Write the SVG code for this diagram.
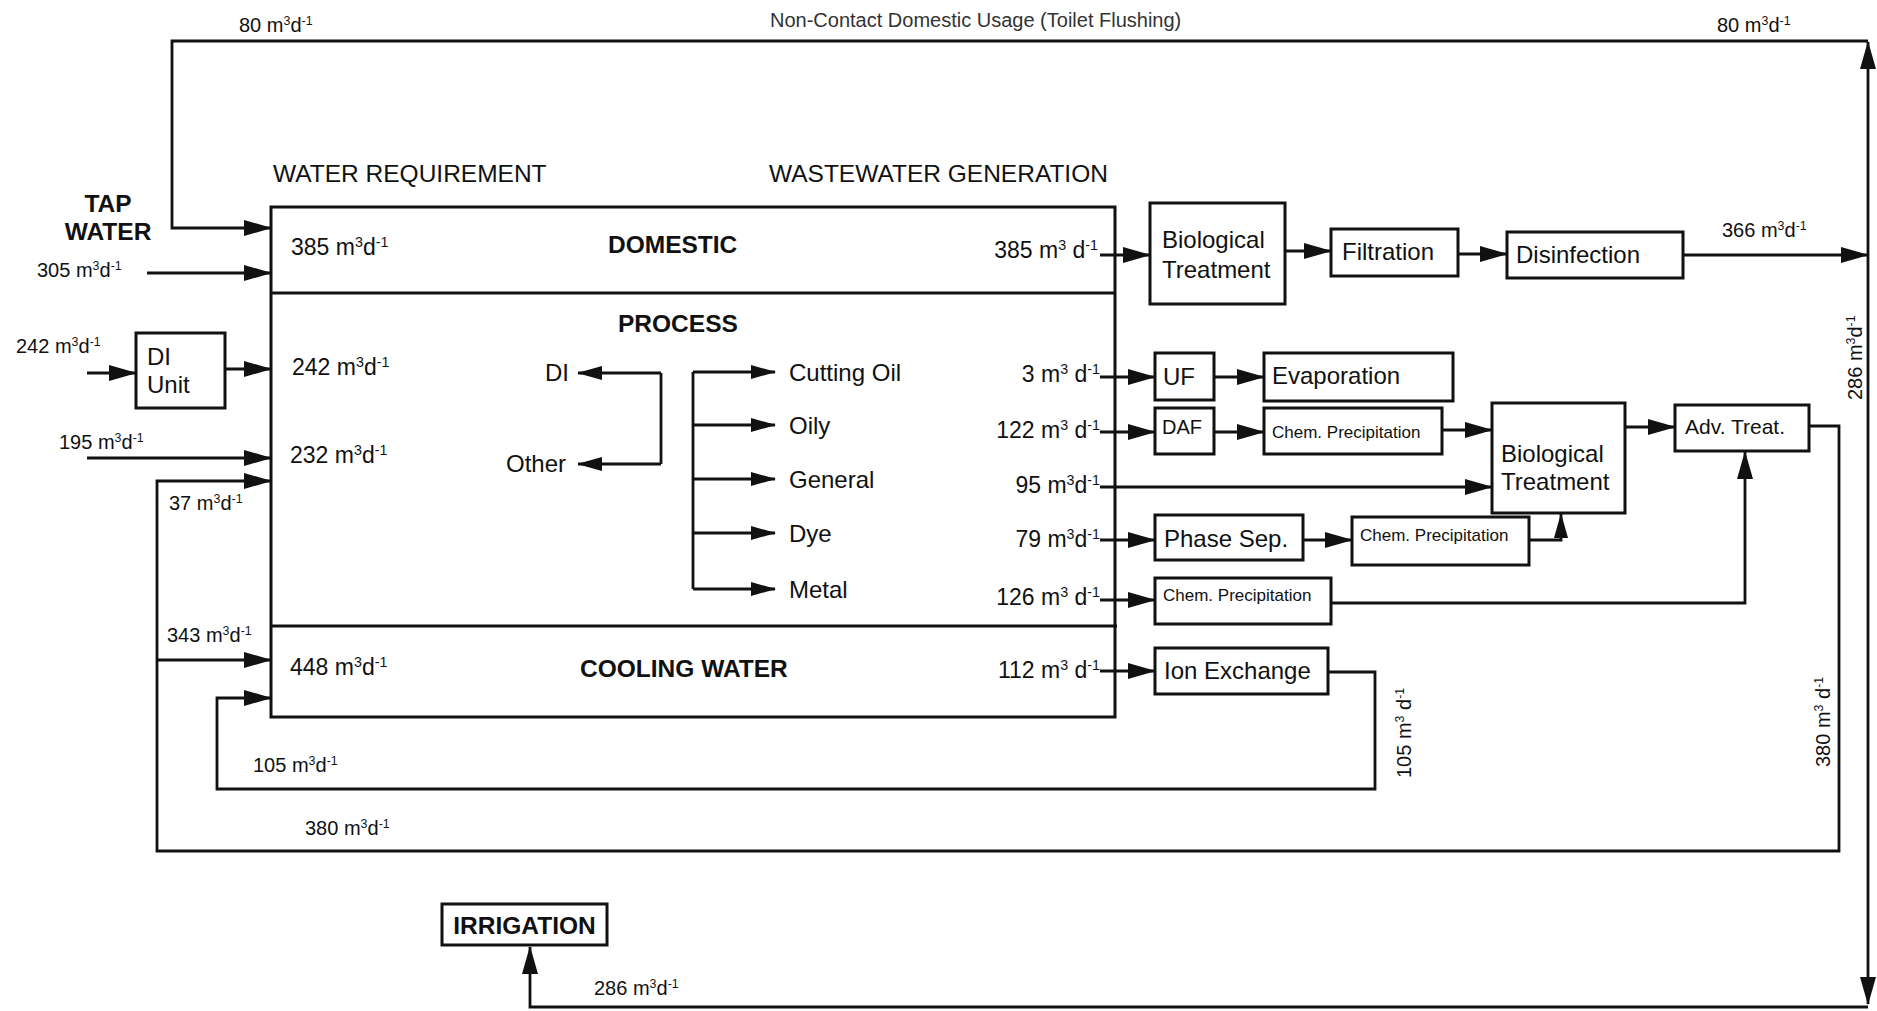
<svg xmlns="http://www.w3.org/2000/svg" width="1877" height="1011" viewBox="0 0 1877 1011">
<defs>
<marker id="ar" markerUnits="userSpaceOnUse" markerWidth="28" markerHeight="16" viewBox="0 0 28 16" refX="27" refY="8" orient="auto"><path d="M0,0 L28,8 L0,16 z" fill="#111"/></marker>
<marker id="as" markerUnits="userSpaceOnUse" markerWidth="25" markerHeight="14" viewBox="0 0 25 14" refX="24" refY="7" orient="auto"><path d="M0,0 L25,7 L0,14 z" fill="#111"/></marker>
</defs>
<style>
text{font-family:"Liberation Sans",Arial,sans-serif;fill:#111}
.b{font-weight:bold;font-size:24.5px}
.h{font-size:24.5px}
.m{font-size:24px}
.n{font-size:23px}
.o{font-size:20px}
.c{font-size:17px}
.s{font-size:62%;baseline-shift:super}
rect{fill:#fff;stroke:#111;stroke-width:3}
.ln{fill:none;stroke:#111;stroke-width:2.8}
</style>
<rect x="0" y="0" width="1877" height="1011" style="fill:#fff;stroke:none"/>

<g id="main-block">
<rect x="271" y="207" width="844" height="510"/>
<path class="ln" d="M271,293 H1115 M271,626 H1117" style="stroke-width:3"/>
<text class="b" x="608" y="253">DOMESTIC</text>
<text class="b" x="618" y="332">PROCESS</text>
<text class="b" x="580" y="677">COOLING WATER</text>
<text class="n" x="291" y="255">385 m<tspan class="s">3</tspan>d<tspan class="s">-1</tspan></text>
<text class="n" x="292" y="375">242 m<tspan class="s">3</tspan>d<tspan class="s">-1</tspan></text>
<text class="n" x="290" y="463">232 m<tspan class="s">3</tspan>d<tspan class="s">-1</tspan></text>
<text class="n" x="290" y="675">448 m<tspan class="s">3</tspan>d<tspan class="s">-1</tspan></text>
<text class="n" x="1098" y="258" text-anchor="end">385 m<tspan class="s">3</tspan> d<tspan class="s">-1</tspan></text>
<text class="n" x="1100" y="382" text-anchor="end">3 m<tspan class="s">3</tspan> d<tspan class="s">-1</tspan></text>
<text class="n" x="1100" y="438" text-anchor="end">122 m<tspan class="s">3</tspan> d<tspan class="s">-1</tspan></text>
<text class="n" x="1100" y="493" text-anchor="end">95 m<tspan class="s">3</tspan>d<tspan class="s">-1</tspan></text>
<text class="n" x="1100" y="547" text-anchor="end">79 m<tspan class="s">3</tspan>d<tspan class="s">-1</tspan></text>
<text class="n" x="1100" y="605" text-anchor="end">126 m<tspan class="s">3</tspan> d<tspan class="s">-1</tspan></text>
<text class="n" x="1100" y="678" text-anchor="end">112 m<tspan class="s">3</tspan> d<tspan class="s">-1</tspan></text>
<text class="m" x="545" y="381">DI</text>
<text class="m" x="506" y="472">Other</text>
<text class="m" x="789" y="381">Cutting Oil</text>
<text class="m" x="789" y="434">Oily</text>
<text class="m" x="789" y="488">General</text>
<text class="m" x="789" y="542">Dye</text>
<text class="m" x="789" y="598">Metal</text>
</g>

<g id="di-unit"><rect x="136" y="333" width="89" height="75"/><text class="m" x="147" y="365">DI</text><text class="m" x="147" y="393">Unit</text></g>
<g id="bio1"><rect x="1150" y="203" width="135" height="101"/><text class="m" x="1162" y="248">Biological</text><text class="m" x="1162" y="278">Treatment</text></g>
<g id="filtration"><rect x="1331" y="229" width="127" height="47"/><text class="m" x="1342" y="260">Filtration</text></g>
<g id="disinfection"><rect x="1507" y="232" width="176" height="46"/><text class="m" x="1516" y="263">Disinfection</text></g>
<g id="uf"><rect x="1155" y="353" width="59" height="47"/><text class="m" x="1163" y="385">UF</text></g>
<g id="evaporation"><rect x="1264" y="353" width="189" height="48"/><text class="m" x="1272" y="384">Evaporation</text></g>
<g id="daf"><rect x="1155" y="408" width="59" height="46"/><text style="font-size:20px" x="1162" y="434">DAF</text></g>
<g id="chem1"><rect x="1264" y="408" width="178" height="46"/><text class="c" x="1272" y="438">Chem. Precipitation</text></g>
<g id="bio2"><rect x="1492" y="403" width="133" height="110"/><text class="m" x="1501" y="462">Biological</text><text class="m" x="1501" y="490">Treatment</text></g>
<g id="adv"><rect x="1675" y="405" width="134" height="46"/><text style="font-size:21px" x="1685" y="434">Adv. Treat.</text></g>
<g id="phase-sep"><rect x="1155" y="515" width="148" height="45"/><text class="m" x="1164" y="547">Phase Sep.</text></g>
<g id="chem2"><rect x="1352" y="517" width="177" height="48"/><text class="c" x="1360" y="541">Chem. Precipitation</text></g>
<g id="chem3"><rect x="1155" y="578" width="176" height="46"/><text class="c" x="1163" y="601">Chem. Precipitation</text></g>
<g id="ion-exchange"><rect x="1155" y="648" width="173" height="46"/><text class="m" x="1164" y="679">Ion Exchange</text></g>
<g id="irrigation"><rect x="442" y="904" width="165" height="41"/><text class="b" x="524.5" y="934" text-anchor="middle">IRRIGATION</text></g>

<g id="connectors">
<path class="ln" d="M147,273 H271" marker-end="url(#ar)"/>
<path class="ln" d="M1868,255 V42" marker-end="url(#ar)"/>
<path class="ln" d="M1868,41 H172 V228 H271" marker-end="url(#ar)"/>
<path class="ln" d="M87,373 H136" marker-end="url(#ar)"/>
<path class="ln" d="M225,369 H271" marker-end="url(#ar)"/>
<path class="ln" d="M87,458 H271" marker-end="url(#ar)"/>
<path class="ln" d="M1809,426 H1839 V851 H157 V481 H271" marker-end="url(#ar)"/>
<path class="ln" d="M157,660 H271" marker-end="url(#ar)"/>
<path class="ln" d="M1328,672 H1375 V789 H217 V698 H271" marker-end="url(#ar)"/>
<path class="ln" d="M1100,255 H1150" marker-end="url(#ar)"/>
<path class="ln" d="M1285,251 H1331" marker-end="url(#ar)"/>
<path class="ln" d="M1458,254 H1507" marker-end="url(#ar)"/>
<path class="ln" d="M1683,255 H1868" marker-end="url(#ar)"/>
<path class="ln" d="M1868,255 V1004" marker-end="url(#ar)"/>
<path class="ln" d="M1868,1007 H530 V947" marker-end="url(#ar)"/>
<path class="ln" d="M661,373 V464"/>
<path class="ln" d="M661,373 H578" marker-end="url(#as)"/>
<path class="ln" d="M661,464 H578" marker-end="url(#as)"/>
<path class="ln" d="M693,372 V589"/>
<path class="ln" d="M693,372 H775" marker-end="url(#as)"/>
<path class="ln" d="M693,425 H775" marker-end="url(#as)"/>
<path class="ln" d="M693,479 H775" marker-end="url(#as)"/>
<path class="ln" d="M693,533 H775" marker-end="url(#as)"/>
<path class="ln" d="M693,589 H775" marker-end="url(#as)"/>
<path class="ln" d="M1100,377 H1155" marker-end="url(#ar)"/>
<path class="ln" d="M1214,377 H1264" marker-end="url(#ar)"/>
<path class="ln" d="M1100,432 H1155" marker-end="url(#ar)"/>
<path class="ln" d="M1214,432 H1264" marker-end="url(#ar)"/>
<path class="ln" d="M1442,430 H1492" marker-end="url(#ar)"/>
<path class="ln" d="M1100,487 H1492" marker-end="url(#ar)"/>
<path class="ln" d="M1100,540 H1155" marker-end="url(#ar)"/>
<path class="ln" d="M1303,540 H1352" marker-end="url(#ar)"/>
<path class="ln" d="M1529,540 H1561 V514" marker-end="url(#as)"/>
<path class="ln" d="M1100,600 H1155" marker-end="url(#ar)"/>
<path class="ln" d="M1331,603 H1745 V452" marker-end="url(#ar)"/>
<path class="ln" d="M1100,671 H1155" marker-end="url(#ar)"/>
<path class="ln" d="M1625,427 H1675" marker-end="url(#ar)"/>
</g>

<g id="flow-labels">
<text class="o" x="239" y="32">80 m<tspan class="s">3</tspan>d<tspan class="s">-1</tspan></text>
<text class="o" x="770" y="27" style="fill:#333">Non-Contact Domestic Usage (Toilet Flushing)</text>
<text class="o" x="1717" y="32">80 m<tspan class="s">3</tspan>d<tspan class="s">-1</tspan></text>
<text class="o" x="1722" y="237">366 m<tspan class="s">3</tspan>d<tspan class="s">-1</tspan></text>
<text class="o" x="37" y="277">305 m<tspan class="s">3</tspan>d<tspan class="s">-1</tspan></text>
<text class="o" x="16" y="353">242 m<tspan class="s">3</tspan>d<tspan class="s">-1</tspan></text>
<text class="o" x="59" y="449">195 m<tspan class="s">3</tspan>d<tspan class="s">-1</tspan></text>
<text class="o" x="169" y="510">37 m<tspan class="s">3</tspan>d<tspan class="s">-1</tspan></text>
<text class="o" x="167" y="642">343 m<tspan class="s">3</tspan>d<tspan class="s">-1</tspan></text>
<text class="o" x="253" y="772">105 m<tspan class="s">3</tspan>d<tspan class="s">-1</tspan></text>
<text class="o" x="305" y="835">380 m<tspan class="s">3</tspan>d<tspan class="s">-1</tspan></text>
<text class="o" x="594" y="995">286 m<tspan class="s">3</tspan>d<tspan class="s">-1</tspan></text>
<text class="o" transform="translate(1862,400) rotate(-90)">286 m<tspan class="s">3</tspan>d<tspan class="s">-1</tspan></text>
<text class="o" transform="translate(1411,778) rotate(-90)">105 m<tspan class="s">3</tspan> d<tspan class="s">-1</tspan></text>
<text class="o" transform="translate(1830,767) rotate(-90)">380 m<tspan class="s">3</tspan> d<tspan class="s">-1</tspan></text>
<text class="b" x="108" y="212" text-anchor="middle">TAP</text>
<text class="b" x="108" y="240" text-anchor="middle">WATER</text>
<text class="h" x="273" y="182">WATER REQUIREMENT</text>
<text class="h" x="769" y="182">WASTEWATER GENERATION</text>
</g>
</svg>
